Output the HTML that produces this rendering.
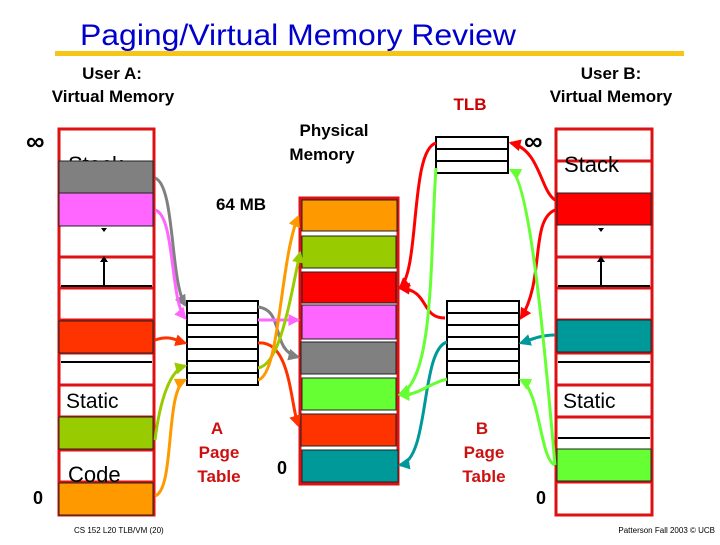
<!DOCTYPE html>
<html><head><meta charset="utf-8"><style>
body{margin:0;width:720px;height:540px;background:#fff;overflow:hidden}
svg text{font-family:"Liberation Sans",Arial,sans-serif}
</style></head><body>
<svg width="720" height="540" xmlns="http://www.w3.org/2000/svg">
<defs>
<marker id="m" viewBox="0 0 10 10" refX="8" refY="5" markerWidth="4" markerHeight="4" orient="auto"><path d="M0,0L10,5L0,10z" fill="context-stroke"/></marker>
</defs>
<text x="80" y="45" font-size="30" fill="#0000cc" textLength="436" lengthAdjust="spacingAndGlyphs">Paging/Virtual Memory Review</text>
<rect x="55" y="51" width="629" height="5" fill="#f5c518"/>
<g font-size="17" font-weight="bold" text-anchor="middle" fill="#000">
<text x="112" y="79">User A:</text><text x="113" y="102">Virtual Memory</text>
<text x="611" y="79">User B:</text><text x="611" y="102">Virtual Memory</text>
<text x="334" y="136">Physical</text><text x="322" y="160">Memory</text>
<text x="241" y="210">64 MB</text>
</g>
<text x="470" y="110" font-size="17" font-weight="bold" fill="#cc0000" text-anchor="middle">TLB</text>
<g font-size="26" font-weight="bold"><text x="26" y="150">∞</text><text x="524" y="150">∞</text></g>
<g font-size="18" font-weight="bold"><text x="33" y="504">0</text><text x="277" y="474">0</text><text x="536" y="504">0</text></g>

<!-- A column -->
<rect x="59" y="129" width="95" height="386" fill="#fff" stroke="#dd1111" stroke-width="3"/>
<g stroke="#dd1111" stroke-width="3"><line x1="59" y1="257" x2="154" y2="257"/><line x1="59" y1="288" x2="154" y2="288"/><line x1="59" y1="320" x2="154" y2="320"/><line x1="59" y1="353" x2="154" y2="353"/><line x1="59" y1="385" x2="154" y2="385"/><line x1="59" y1="417" x2="154" y2="417"/><line x1="59" y1="450" x2="154" y2="450"/><line x1="59" y1="482" x2="154" y2="482"/></g>
<text x="68" y="172" font-size="22">Stack</text>
<text x="66" y="408" font-size="21">Static</text>
<text x="68" y="482" font-size="22">Code</text>
<g stroke="#222" stroke-width="1"><rect x="59" y="161" width="94" height="32" fill="#808080"/><rect x="59" y="193" width="94" height="33" fill="#ff66ff"/><rect x="59" y="321" width="94" height="32" fill="#ff3300"/><rect x="59" y="417" width="94" height="32" fill="#99cc00"/><rect x="59" y="483" width="94" height="32" fill="#ff9900"/></g>
<g stroke="#000" stroke-width="2"><line x1="61" y1="286" x2="152" y2="286"/><line x1="61" y1="362" x2="152" y2="362"/><line x1="104" y1="286" x2="104" y2="262"/></g>
<path d="M100,262L104,256L108,262z"/><path d="M101,228L104,232L107,228z"/>

<!-- B column -->
<rect x="556" y="129" width="96" height="386" fill="#fff" stroke="#dd1111" stroke-width="3"/>
<g stroke="#dd1111" stroke-width="3"><line x1="556" y1="161" x2="652" y2="161"/><line x1="556" y1="257" x2="652" y2="257"/><line x1="556" y1="288" x2="652" y2="288"/><line x1="556" y1="320" x2="652" y2="320"/><line x1="556" y1="353" x2="652" y2="353"/><line x1="556" y1="385" x2="652" y2="385"/><line x1="556" y1="417" x2="652" y2="417"/><line x1="556" y1="482" x2="652" y2="482"/></g>
<text x="564" y="172" font-size="22">Stack</text>
<text x="563" y="408" font-size="21">Static</text>
<g stroke="#222" stroke-width="1"><rect x="557" y="193" width="94" height="32" fill="#ff0000"/><rect x="557" y="320" width="94" height="32" fill="#009999"/><rect x="557" y="449" width="94" height="32" fill="#66ff33"/></g>
<g stroke="#000" stroke-width="2"><line x1="558" y1="286" x2="650" y2="286"/><line x1="558" y1="362" x2="650" y2="362"/><line x1="558" y1="438" x2="650" y2="438"/><line x1="601" y1="286" x2="601" y2="262"/></g>
<path d="M597,262L601,256L605,262z"/><path d="M598,228L601,232L604,228z"/>

<!-- physical memory -->
<rect x="300" y="198" width="98" height="286" fill="#fff" stroke="#dd1111" stroke-width="3"/>
<g stroke="#222" stroke-width="1">
<rect x="302" y="200" width="95" height="31" fill="#ff9900"/><rect x="302" y="236" width="94" height="32" fill="#99cc00"/><rect x="302" y="272" width="94" height="31" fill="#ff0000"/><rect x="302" y="305" width="94" height="34" fill="#ff66ff"/><rect x="301" y="342" width="95" height="32" fill="#808080"/><rect x="302" y="378" width="94" height="32" fill="#66ff33"/><rect x="301" y="414" width="95" height="32" fill="#ff3300"/><rect x="302" y="450" width="96" height="32" fill="#009999"/></g>

<!-- page tables -->
<g fill="#fff" stroke="#000" stroke-width="2">
<rect x="187" y="301" width="71" height="84"/><rect x="447" y="301" width="72" height="84"/><rect x="436" y="137" width="72" height="36"/></g>
<g stroke="#000" stroke-width="2">
<path d="M187,313H258M187,325H258M187,337H258M187,349H258M187,361H258M187,373H258"/>
<path d="M447,313H519M447,325H519M447,337H519M447,349H519M447,361H519M447,373H519"/>
<path d="M436,149H508M436,161H508"/></g>

<g font-size="17" font-weight="bold" fill="#cc1111" text-anchor="middle">
<text x="217" y="434">A</text><text x="219" y="458">Page</text><text x="219" y="482">Table</text>
<text x="482" y="434">B</text><text x="484" y="458">Page</text><text x="484" y="482">Table</text></g>

<!-- arrows -->
<g fill="none" stroke-width="3" marker-end="url(#m)">
<path d="M155,178C175,185 170,280 185,305" stroke="#808080"/>
<path d="M155,210C175,215 170,300 185,318" stroke="#ff66ff"/>
<path d="M155,340C170,335 175,340 185,343" stroke="#ff3300"/>
<path d="M155,440C160,400 170,370 185,366" stroke="#99cc00"/>
<path d="M155,496C175,490 165,390 185,380" stroke="#ff9900"/>
<path d="M258,307C285,310 270,350 298,357" stroke="#808080"/>
<path d="M258,320H298" stroke="#ff66ff"/>
<path d="M258,343C290,340 290,400 298,425" stroke="#ff3300"/>
<path d="M258,368C280,365 290,300 300,253" stroke="#99cc00"/>
<path d="M258,380C280,375 280,260 298,217" stroke="#ff9900"/>
<path d="M555,200C540,190 540,150 511,143" stroke="#ff0000"/>
<path d="M555,210C530,220 545,280 521,318" stroke="#ff0000"/>
<path d="M445,318C420,318 430,290 400,288" stroke="#ff0000"/>
<path d="M436,143C410,150 420,270 400,288" stroke="#ff0000"/>
<path d="M555,335C540,335 530,340 521,343" stroke="#009999"/>
<path d="M447,342C420,350 430,460 400,465" stroke="#009999"/>
<path d="M555,465C540,460 540,390 521,380" stroke="#66ff33"/>
<path d="M555,465C545,350 530,180 511,170" stroke="#66ff33"/>
<path d="M447,379C425,385 420,395 400,395" stroke="#66ff33"/>
<path d="M436,168C430,250 435,380 400,394" stroke="#66ff33"/>
</g>

<text x="74" y="533" font-size="8">CS 152 L20 TLB/VM  (20)</text>
<text x="715" y="533" font-size="8" text-anchor="end">Patterson Fall 2003 © UCB</text>
</svg>
</body></html>
